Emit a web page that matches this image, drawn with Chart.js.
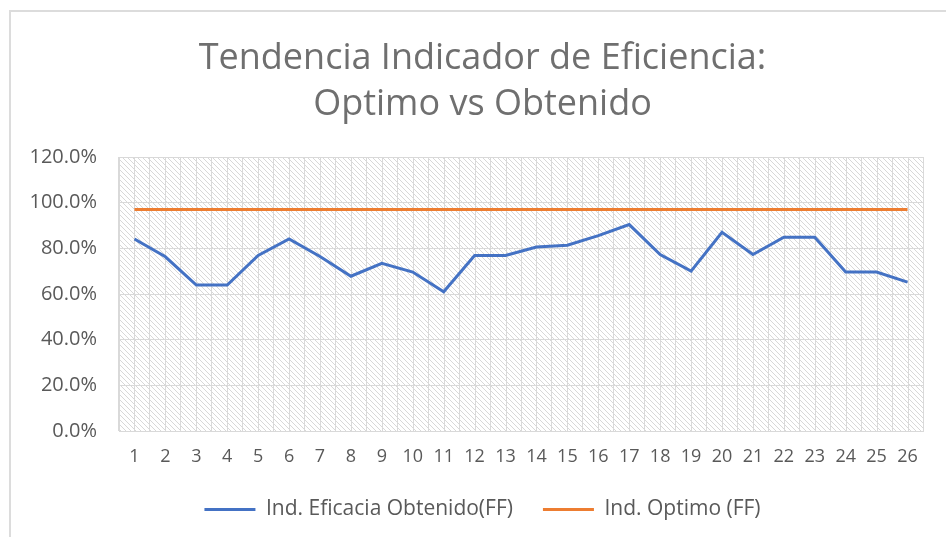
<!DOCTYPE html>
<html>
<head>
<meta charset="utf-8">
<title>Tendencia Indicador de Eficiencia</title>
<script src="https://cdn.jsdelivr.net/npm/chart.js@4.4.1/dist/chart.umd.min.js"></script>
<style>
  html, body { margin: 0; padding: 0; background: #fff; }
  #frame {
    position: absolute; left: 9px; top: 10px; width: 980px; height: 600px;
    border-top: 2px solid #dcdcdc; border-left: 2px solid #dcdcdc;
  }
  #wrap { position: absolute; left: 0; top: 0; width: 946px; height: 537px; }
</style>
</head>
<body>
<div id="frame"></div>
<div id="wrap"><canvas id="trendChart" width="946" height="537"></canvas></div>
<script>
// periods on the x axis
const periods = ['1', '2', '3', '4', '5', '6', '7', '8', '9', '10', '11', '12', '13',
                 '14', '15', '16', '17', '18', '19', '20', '21', '22', '23', '24', '25', '26'];

// Ind. Eficacia Obtenido (FF), in percent
const obtenido = [84.1, 76.3, 63.9, 63.9, 76.9, 84.1, 76.4, 67.8, 73.4, 69.6, 61.0, 76.9, 76.9,
                  80.6, 81.4, 85.6, 90.4, 77.3, 70.0, 87.0, 77.3, 84.9, 84.9, 69.6, 69.6, 65.2];

// Ind. Optimo (FF), in percent
const optimo = [97, 97, 97, 97, 97, 97, 97, 97, 97, 97, 97, 97, 97,
                97, 97, 97, 97, 97, 97, 97, 97, 97, 97, 97, 97, 97];

const yTicks = [0, 20, 40, 60, 80, 100, 120];

const FONT = "'Open Sans', Lato, sans-serif";
const TEXT = '#595959';
const GRID = '#d9d9d9';

// diagonal hatch used as plot background
function makeHatch() {
    const tile = document.createElement('canvas');
    tile.width = 5;
    tile.height = 5;
    const t = tile.getContext('2d');
    t.strokeStyle = '#d8d8d8';
    t.lineWidth = 1;
    t.beginPath();
    t.moveTo(-1, -1); t.lineTo(6, 6);
    t.moveTo(-1, 4); t.lineTo(1, 6);
    t.moveTo(4, -1); t.lineTo(6, 1);
    t.stroke();
    return t.createPattern(tile, 'repeat');
}

const plotBackground = {
    id: 'plotBackground',
    beforeDraw(chart) {
        const { ctx, chartArea: a, scales: { x } } = chart;
        ctx.save();
        ctx.fillStyle = makeHatch();
        ctx.fillRect(a.left, a.top, a.width, a.height);
        // extra vertical lines through each category
        ctx.strokeStyle = GRID;
        ctx.lineWidth = 1;
        ctx.beginPath();
        periods.forEach((p, i) => {
            const px = Math.round(x.getPixelForValue(i)) + 0.5;
            ctx.moveTo(px, a.top);
            ctx.lineTo(px, a.bottom);
        });
        ctx.stroke();
        ctx.restore();
    }
};

new Chart(document.getElementById('trendChart'), {
    type: 'line',
    data: {
        labels: periods,
        datasets: [{
            label: 'Ind. Eficacia Obtenido(FF)',
            data: obtenido,
            borderColor: '#4472c4',
            backgroundColor: '#4472c4',
            borderWidth: 3,
            pointRadius: 0,
            tension: 0
        }, {
            label: 'Ind. Optimo (FF)',
            data: optimo,
            borderColor: '#ed7d31',
            backgroundColor: '#ed7d31',
            borderWidth: 3,
            pointRadius: 0,
            tension: 0
        }]
    },
    options: {
        responsive: false,
        animation: false,
        layout: { padding: { left: 24, right: 5, top: 10, bottom: 7 } },
        plugins: {
            title: {
                display: true,
                text: ['Tendencia Indicador de Eficiencia:', 'Optimo vs Obtenido'],
                color: '#6f6f6f',
                font: { family: FONT, size: 36, weight: 'normal', lineHeight: 1.278 },
                padding: { top: 26, bottom: 29 }
            },
            legend: {
                position: 'bottom',
                labels: {
                    color: TEXT,
                    font: { family: FONT, size: 21 },
                    usePointStyle: true,
                    pointStyle: 'line',
                    pointStyleWidth: 51,
                    padding: 30
                }
            },
            tooltip: { enabled: false }
        },
        scales: {
            x: {
                offset: true,
                grid: { color: GRID, offset: true, drawTicks: false },
                border: { color: GRID },
                ticks: { color: TEXT, font: { family: FONT, size: 18 }, padding: 15, maxRotation: 0, autoSkip: false },
                afterFit(s) { s.height = 38; }
            },
            y: {
                min: 0,
                max: 120,
                afterBuildTicks(s) { s.ticks = yTicks.map(v => ({ value: v })); },
                grid: { color: GRID, drawTicks: false },
                border: { color: GRID },
                ticks: {
                    color: TEXT,
                    font: { family: FONT, size: 20 },
                    padding: 22,
                    callback: v => v.toFixed(1) + '%'
                },
                afterFit(s) { s.width = 95; }
            },
            // empty right-hand margin so the plot ends where the reference's does
            yRight: {
                position: 'right',
                min: 0,
                max: 120,
                grid: { display: false },
                border: { display: false },
                ticks: { display: false },
                afterFit(s) { s.width = 18; }
            }
        }
    },
    plugins: [plotBackground]
});
</script>
</body>
</html>
